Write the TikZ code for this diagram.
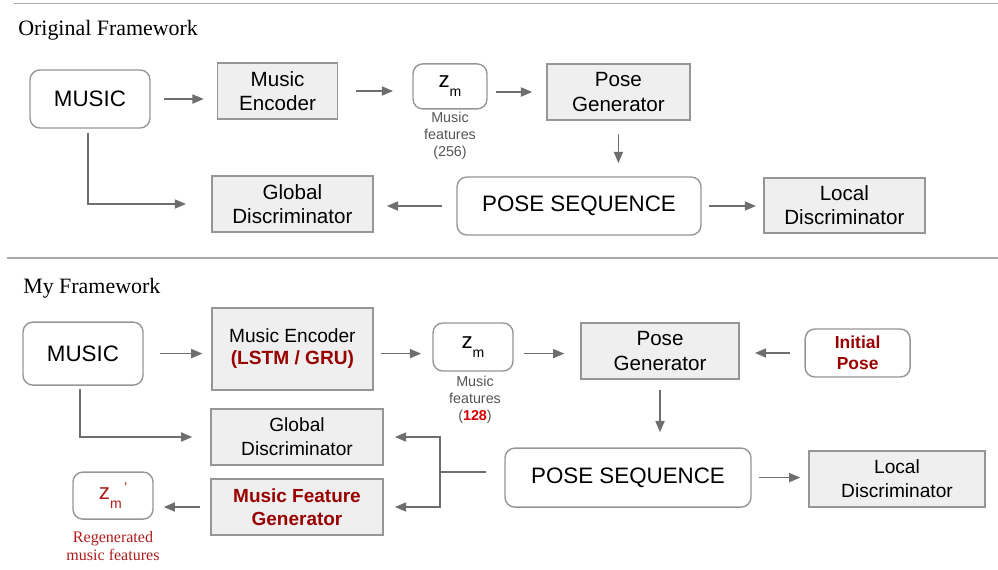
\documentclass[tikz,border=0pt]{standalone}
\usepackage{fontspec}
\setmainfont{Liberation Serif}
\newfontfamily\arialfont{Liberation Sans}
\usetikzlibrary{arrows.meta}
\definecolor{boxLine}{RGB}{150, 150, 150}
\definecolor{boxFill}{RGB}{239, 239, 239}
\definecolor{arrowLine}{RGB}{110, 110, 110}
\definecolor{ruleLine}{RGB}{170, 170, 170}
\definecolor{noteGray}{RGB}{85, 85, 85}
\definecolor{darkRed}{RGB}{153, 0, 0}
\definecolor{brightRed}{RGB}{214, 0, 0}
\definecolor{regenRed}{RGB}{176, 28, 28}

\begin{document}
\begin{tikzpicture}[
  io/.style={
    rectangle,
    draw=boxLine,
    fill=white,
    rounded corners=7pt,
    line width=1pt,
    inner sep=0pt,
    align=center,
    font=\arialfont\fontsize{15.9pt}{18pt}\selectfont
  },
  block/.style={
    rectangle,
    draw=boxLine,
    fill=boxFill,
    line width=1pt,
    inner sep=0pt,
    align=center,
    font=\arialfont\fontsize{14.65pt}{17.1pt}\selectfont
  },
  small/.style={font=\arialfont\fontsize{13.6pt}{17pt}\selectfont},
  note/.style={align=center, text=noteGray, font=\arialfont\fontsize{10.2pt}{12.1pt}\selectfont},
  title/.style={anchor=base west, inner sep=0pt, font=\fontsize{15.6pt}{18pt}\selectfont},
  arr/.style={draw=arrowLine, line width=1pt, -{Triangle[length=8pt, width=6.5pt]},
    shorten <=0.33cm, shorten >=0.33cm},
  link/.style={draw=arrowLine, line width=1pt},
  rule/.style={draw=ruleLine, line width=1.2pt}
]
  \useasboundingbox (0,0) rectangle (24.95,-14.225);

  \newcommand{\zsub}{\raisebox{-6.5pt}{\fontsize{10pt}{10pt}\selectfont m}}

  % ── Separators and titles ─────────────────────────────────────
  \draw[rule] (0.35,-0.09) -- (24.95,-0.09);
  \draw[rule] (0.175,-6.45) -- (24.95,-6.45);
  \node[title] (orig) at (0.45,-0.875) {Original Framework};
  \node[title] (mine) at (0.575,-7.325) {My Framework};

  % ── Original framework ───────────────────────────────────────
  \node[io, minimum width=3.0cm, minimum height=1.45cm]    (music1) at (2.25,-2.475)  {MUSIC};
  \node[block, minimum width=3.0cm, minimum height=1.4cm]  (enc1)   at (6.94,-2.275)  {Music\\Encoder};
  \node[io, minimum width=1.85cm, minimum height=1.125cm]  (zm1)    at (11.25,-2.16)  {z\zsub};
  \node[note]                                               (feat1)  at (11.25,-3.4)   {Music\\features\\(256)};
  \node[block, minimum width=3.575cm, minimum height=1.4cm](gen1)   at (15.46,-2.3)   {Pose\\Generator};
  \node[io, minimum width=6.1cm, minimum height=1.45cm]    (seq1)   at (14.475,-5.15) {POSE SEQUENCE};
  \node[block, minimum width=4.025cm, minimum height=1.375cm] (loc1) at (21.11,-5.14) {Local\\Discriminator};
  \node[block, minimum width=4.025cm, minimum height=1.4cm](glob1)  at (7.31,-5.1)    {Global\\Discriminator};

  \draw[arr] (music1.east) -- (music1.east -| enc1.west);
  \draw[arr, shorten <=0.45cm, shorten >=0.48cm] (enc1.east) -- (enc1.east -| zm1.west);
  \draw[arr, shorten <=0.2cm, shorten >=0.35cm] (zm1.east |- gen1.west) -- (gen1.west);
  \draw[arr] (gen1.south) -- (gen1.south |- seq1.north);
  \draw[arr, shorten <=0.35cm] (seq1.west) -- (seq1.west -| glob1.east);
  \draw[arr, shorten <=0.18cm, shorten >=0.18cm] (seq1.east) -- (seq1.east -| loc1.west);
  \draw[arr, shorten <=0.1cm, shorten >=0.63cm] ([xshift=-0.05cm]music1.south) |- (glob1.west);

  % ── My framework ─────────────────────────────────────────────
  \node[io, minimum width=3.0cm, minimum height=1.575cm]   (music2) at (2.075,-8.84)  {MUSIC};
  \node[block, small, minimum width=4.025cm, minimum height=2.05cm,
        font=\arialfont\fontsize{13.6pt}{15.6pt}\selectfont]
        (enc2) at (7.31,-8.725) {Music Encoder\\\textcolor{darkRed}{\bfseries (LSTM / GRU)}};
  \node[io, minimum width=2.0cm, minimum height=1.2cm]     (zm2)    at (11.825,-8.675) {z\zsub};
  \node[note]                                               (feat2)  at (11.875,-10.0)  {Music\\features\\(\textcolor{brightRed}{\bfseries 128})};
  \node[block, minimum width=3.95cm, minimum height=1.4cm] (gen2)   at (16.5,-8.775)   {Pose\\Generator};
  \node[io, minimum width=2.625cm, minimum height=1.2cm, text=darkRed,
        font=\arialfont\bfseries\fontsize{12.4pt}{15pt}\selectfont]
        (init) at (21.44,-8.825) {Initial\\Pose};
  \node[io, minimum width=6.15cm, minimum height=1.475cm]  (seq2)   at (15.7,-11.94)   {POSE SEQUENCE};
  \node[block, small, minimum width=4.4cm, minimum height=1.4cm]  (loc2)  at (22.425,-11.975) {Local\\Discriminator};
  \node[block, small, minimum width=4.3cm, minimum height=1.4cm]  (glob2) at (7.425,-10.925)  {Global\\Discriminator};
  \node[block, minimum width=4.3cm, minimum height=1.4cm, text=darkRed,
        font=\arialfont\bfseries\fontsize{13.5pt}{16.4pt}\selectfont]
        (mfg) at (7.425,-12.675) {Music Feature\\Generator};
  \node[io, minimum width=2.0cm, minimum height=1.175cm, text=regenRed]
        (zmr) at (2.825,-12.39) {z\zsub\raisebox{5pt}{\fontsize{10pt}{10pt}\selectfont\,’}};
  \node[align=center, text=regenRed, font=\fontsize{11.4pt}{12.8pt}\selectfont]
        (regen) at (2.825,-13.65) {Regenerated\\music features};

  \coordinate (split) at (11.0,-11.8);

  \draw[arr, shorten <=0.4cm, shorten >=0.22cm] (music2.east) -- (music2.east -| enc2.west);
  \draw[arr, shorten <=0.18cm, shorten >=0.28cm] (enc2.east |- music2) -- (zm2.west |- music2);
  \draw[arr, shorten <=0.25cm, shorten >=0.4cm] (zm2.east |- music2) -- (gen2.west |- music2);
  \draw[arr, shorten <=0.35cm, shorten >=0.38cm] (init.west) -- (init.west -| gen2.east);
  \draw[arr, shorten <=0.25cm, shorten >=0.38cm] (gen2.south) -- (gen2.south |- seq2.north);
  \draw[arr, shorten <=0.18cm, shorten >=0.2cm] (seq2.east) -- (seq2.east -| loc2.west);
  \draw[link, shorten <=0.45cm] (seq2.west |- split) -- (split);
  \draw[arr, shorten <=0cm, shorten >=0.28cm] (split) |- (glob2.east);
  \draw[arr, shorten <=0cm, shorten >=0.28cm] (split) |- (mfg.east);
  \draw[arr, shorten <=0.08cm, shorten >=0.45cm] ([xshift=-0.075cm]music2.south) |- (glob2.west);
  \draw[arr, shorten <=0.25cm, shorten >=0.25cm] (mfg.west) -- (mfg.west -| zmr.east);

\end{tikzpicture}
\end{document}
